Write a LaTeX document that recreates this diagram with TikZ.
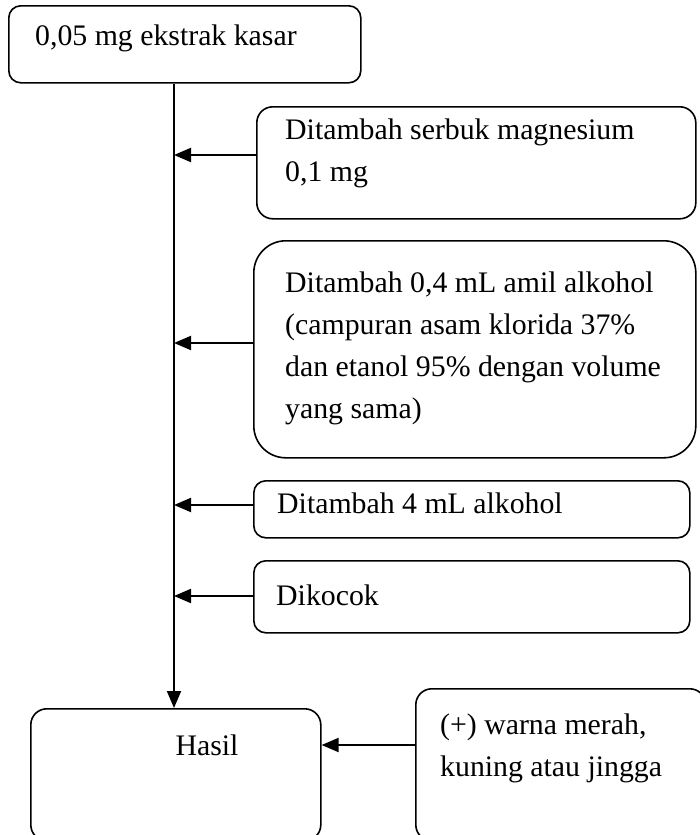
\documentclass[tikz,border=0pt]{standalone}
\usepackage{fontspec}
\setmainfont{Liberation Serif}
\usetikzlibrary{arrows.meta,calc}
\begin{document}
\begin{tikzpicture}[x=1pt,y=-1pt,
  box/.style={draw,line width=1.6pt,rectangle,inner sep=0pt,anchor=north west},
  txt/.style={anchor=base west,inner sep=0pt,font=\fontsize{29.8}{42}\selectfont,align=left},
  mtxt/.style={txt,anchor=north west},
  arr/.style={line width=2pt,-{Triangle[length=17pt,width=14pt]}}]
\useasboundingbox (0,0) rectangle (700,835);
\clip (0,0) rectangle (700,835);
% process boxes, placed by their top-left corners
\node[box,rounded corners=12pt,minimum width=352pt,minimum height=77pt] (top) at (8,5) {};
\node[box,rounded corners=16pt,minimum width=439pt,minimum height=112pt] (b2) at (256,106) {};
\node[box,rounded corners=32pt,minimum width=442pt,minimum height=217pt] (b3) at (253,240) {};
\node[box,rounded corners=12pt,minimum width=436pt,minimum height=57pt] (b4) at (253,480) {};
\node[box,rounded corners=12pt,minimum width=436pt,minimum height=72pt] (b5) at (253,560) {};
\node[box,rounded corners=16pt,minimum width=290pt,minimum height=132pt] (hasil) at (30,708) {};
\node[box,rounded corners=16pt,minimum width=290pt,minimum height=152pt] (res) at (415,688) {};
% box texts
\node[txt] (ttop) at (35,45) {0,05 mg ekstrak kasar};
\node[mtxt] (t2) at (285,119) {Ditambah serbuk magnesium\\0,1 mg};
\node[mtxt] (t3) at (285,272) {Ditambah 0,4 mL amil alkohol\\(campuran asam klorida 37\%\\dan etanol 95\% dengan volume\\yang sama)};
\node[txt] (t4) at (277,513) {Ditambah 4 mL alkohol};
\node[txt] (t5) at (276,605) {Dikocok};
\node[txt,anchor=base] (th) at (207,755) {Hasil};
\node[mtxt] (tr) at (440,714) {(+) warna merah,\\kuning atau jingga};
% main line and side arrows
\coordinate (spine) at (174,0);
\draw[arr] (top.south -| spine) -- (hasil.north -| spine);
\draw[arr] (b2.west |- 0,155) -- (spine |- 0,155);
\draw[arr] (b3.west |- 0,343) -- (spine |- 0,343);
\draw[arr] (b4.west |- 0,505) -- (spine |- 0,505);
\draw[arr] (b5.west |- 0,596) -- (spine |- 0,596);
\draw[arr] (res.west |- 0,745) -- (hasil.east |- 0,745);
\end{tikzpicture}
\end{document}
